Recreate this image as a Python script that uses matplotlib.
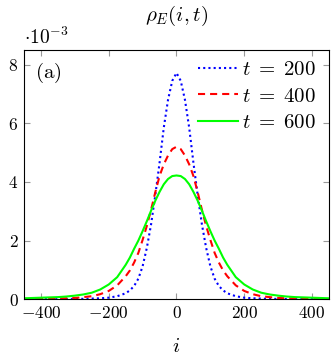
import matplotlib
matplotlib.use("Agg")
import matplotlib.pyplot as plt
from matplotlib.ticker import FixedLocator, FuncFormatter

plt.rcParams["mathtext.fontset"] = "cm"
plt.rcParams["font.family"] = "DejaVu Serif"

# site index (finer grid near the peak)
i_vals = [-450, -425, -400, -375, -350, -325, -300, -275, -250, -225, -200, -175,
          -150, -137.5, -125, -112.5, -100, -87.5, -75, -62.5, -50, -37.5, -25, -12.5,
          0, 12.5, 25, 37.5, 50, 62.5, 75, 87.5, 100, 112.5, 125, 137.5, 150,
          175, 200, 225, 250, 275, 300, 325, 350, 375, 400, 425, 450]

# rho_E in units of 1e-3
rho_t200 = [0, 0, 0, 0, 0, 0.005, 0.01, 0.01, 0.02, 0.03, 0.05, 0.1,
            0.2, 0.3, 0.45, 0.7, 1.12, 1.75, 2.55, 3.55, 4.65, 5.85, 6.8, 7.45,
            7.72, 7.45, 6.8, 5.85, 4.65, 3.55, 2.55, 1.75, 1.12, 0.7, 0.45, 0.3, 0.2,
            0.1, 0.05, 0.03, 0.02, 0.01, 0.01, 0.005, 0, 0, 0, 0, 0]
rho_t400 = [0, 0, 0.01, 0.01, 0.02, 0.03, 0.04, 0.07, 0.1, 0.17, 0.28, 0.47,
            0.78, 0.98, 1.25, 1.58, 2.02, 2.5, 3.05, 3.65, 4.2, 4.6, 4.9, 5.12,
            5.2, 5.12, 4.9, 4.6, 4.2, 3.65, 3.05, 2.5, 2.02, 1.58, 1.25, 0.98, 0.78,
            0.47, 0.28, 0.17, 0.1, 0.07, 0.04, 0.03, 0.02, 0.01, 0.01, 0, 0]
rho_t600 = [0.03, 0.04, 0.05, 0.06, 0.07, 0.09, 0.12, 0.16, 0.22, 0.33, 0.5, 0.75,
            1.17, 1.42, 1.72, 2.0, 2.32, 2.66, 3.02, 3.36, 3.66, 3.92, 4.1, 4.2,
            4.22, 4.2, 4.1, 3.92, 3.66, 3.36, 3.02, 2.66, 2.32, 2.0, 1.72, 1.42, 1.17,
            0.75, 0.5, 0.33, 0.22, 0.16, 0.12, 0.09, 0.07, 0.06, 0.05, 0.04, 0.03]

x_ticks = [-400, -200, 0, 200, 400]
y_ticks = [0, 2, 4, 6, 8]

fig = plt.figure(figsize=(3.33, 3.6), dpi=100)
ax = fig.add_axes([0.072, 0.169, 0.916, 0.692])

ax.plot(i_vals, rho_t200, color=(0, 0, 1), lw=1.5, ls=(0, (1, 1.5)), label=r"$t\;=\;200$")
ax.plot(i_vals, rho_t400, color=(1, 0, 0), lw=1.5, ls=(0, (3.4, 2.4)), label=r"$t\;=\;400$")
ax.plot(i_vals, rho_t600, color=(0, 1, 0), lw=1.5, ls="-", label=r"$t\;=\;600$")

ax.set_xlim(-450, 450)
ax.set_ylim(0, 8.5)
ax.xaxis.set_major_locator(FixedLocator(x_ticks))
ax.yaxis.set_major_locator(FixedLocator(y_ticks))
ax.xaxis.set_major_formatter(FuncFormatter(lambda v, p: r"$%d$" % v))
ax.yaxis.set_major_formatter(FuncFormatter(lambda v, p: r"$%d$" % v))
ax.tick_params(direction="in", top=True, right=True, length=4.5, width=0.8,
               color="#999999", labelsize=12.5, pad=4)
for s in ax.spines.values():
    s.set_linewidth(0.8)

ax.set_title(r"$\rho_E(i,t)$", fontsize=15, pad=21)
ax.set_xlabel(r"$i$", fontsize=15, labelpad=11)
ax.text(0.0, 1.01, r"$\cdot 10^{-3}$", transform=ax.transAxes, fontsize=14,
        ha="left", va="bottom")
ax.text(0.037, 0.91, r"$\mathrm{(a)}$", transform=ax.transAxes, fontsize=15,
        ha="left", va="center")

ax.legend(loc="upper left", frameon=False, fontsize=15, handlelength=1.9,
          handletextpad=0.2, labelspacing=0.36, borderaxespad=0.0,
          borderpad=0.0, bbox_to_anchor=(0.5705, 0.96))

fig.savefig("out.png", dpi=100)
